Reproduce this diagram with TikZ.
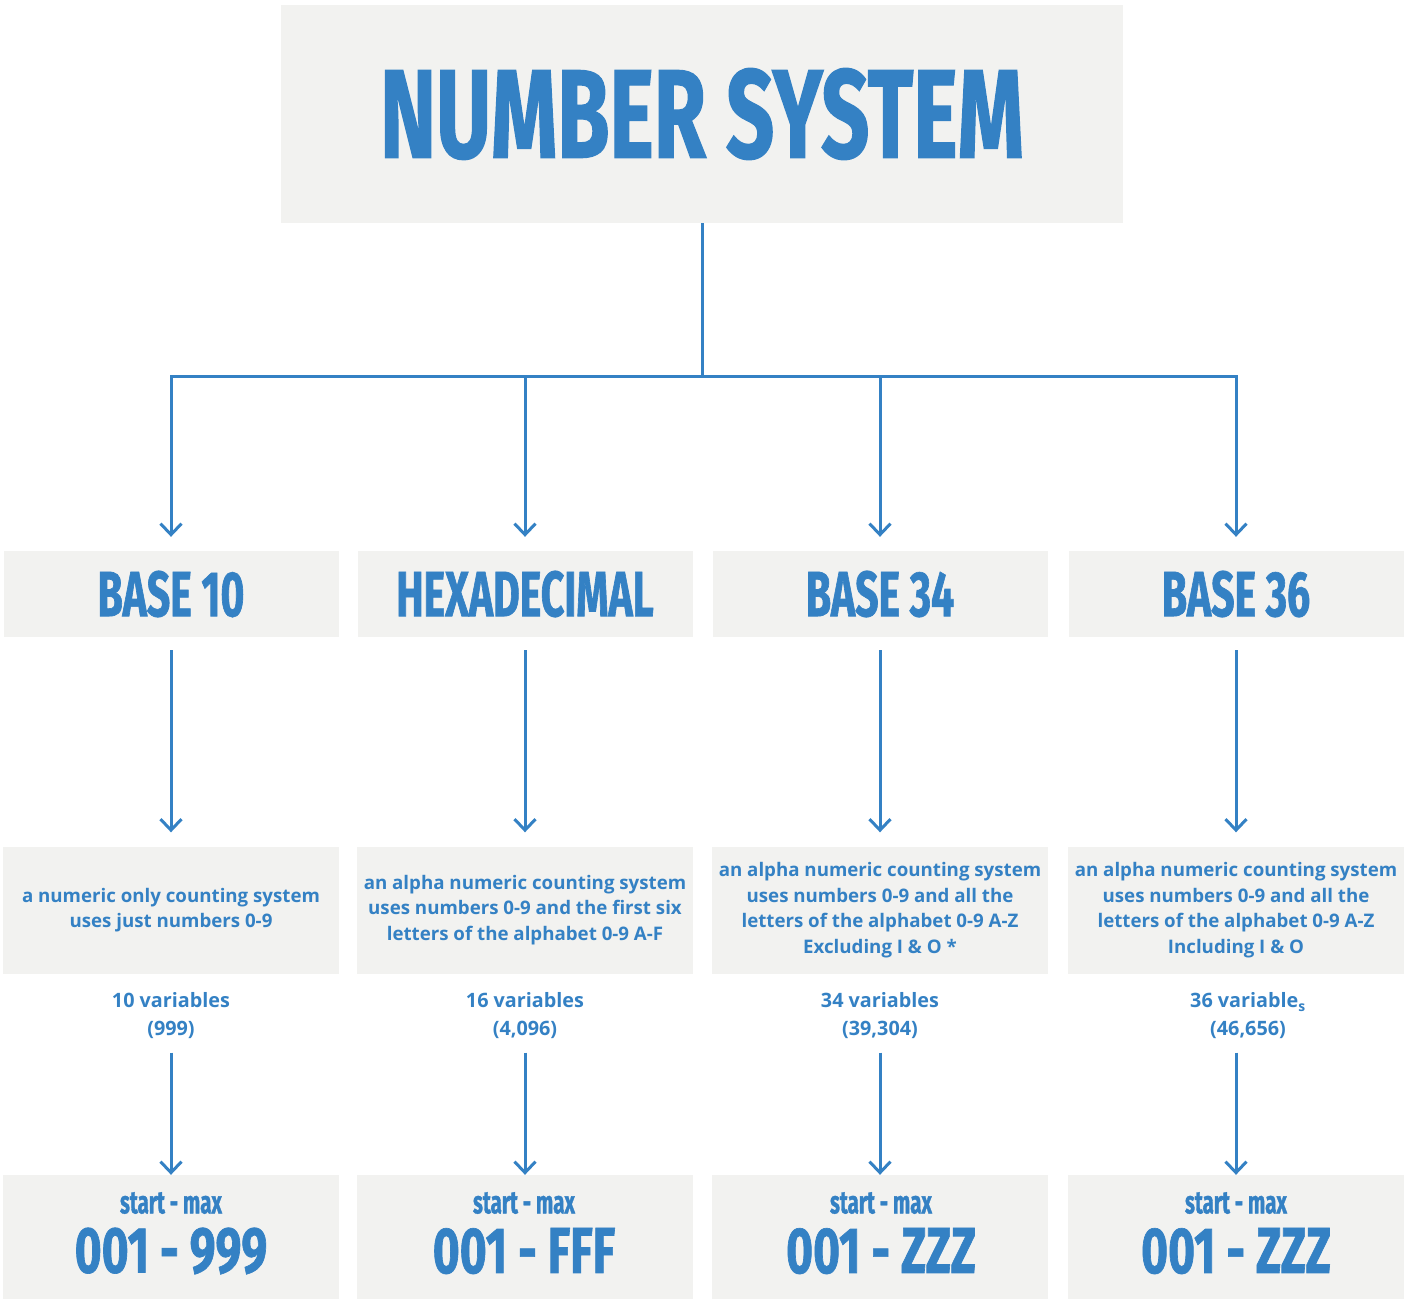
\documentclass[tikz,border=0pt]{standalone}
\usepackage{fontspec}
\setmainfont{Open Sans}
\newfontfamily\headfont[FakeStretch=0.64, FakeBold=1]{Fira Sans}
\newfontfamily\bigheadfont[FakeStretch=0.67, FakeBold=1]{Fira Sans}
\newfontfamily\codefont[FakeStretch=0.71, FakeBold=1]{Fira Sans}
\usetikzlibrary{positioning, arrows.meta}
\definecolor{numblue}{RGB}{52,129,196}
\definecolor{boxgray}{RGB}{242,242,240}
\tikzstyle{titlebox} = [rectangle, minimum width=842pt, minimum height=218pt, fill=boxgray, text=numblue, font=\bigheadfont\bfseries\fontsize{126}{126}\selectfont]
\tikzstyle{basebox} = [rectangle, minimum width=335pt, minimum height=86pt, fill=boxgray, text=numblue, font=\headfont\bfseries\fontsize{64}{64}\selectfont]
\tikzstyle{descbox} = [rectangle, minimum width=336pt, minimum height=127pt, inner sep=0pt, fill=boxgray, text=numblue, align=center, font=\bfseries\fontsize{18.7}{25.5}\selectfont]
\tikzstyle{vartext} = [align=center, text=numblue, font=\bfseries\fontsize{19.8}{28}\selectfont]
\tikzstyle{rangebox} = [rectangle, minimum width=336pt, minimum height=124pt, fill=boxgray]
\tikzstyle{startmax} = [text=numblue, inner sep=0pt, font=\headfont\bfseries\fontsize{32}{32}\selectfont]
\tikzstyle{rangecode} = [text=numblue, inner sep=0pt, font=\codefont\bfseries\fontsize{65}{65}\selectfont]
\tikzstyle{line} = [numblue, line width=3pt]
\tikzstyle{arrow} = [line, -{Straight Barb[length=11pt, width=21pt]}]
\def\gap{13pt}

\begin{document}
\begin{tikzpicture}[x=1pt, y=-1pt]
\useasboundingbox (0,0) rectangle (1416,1299);

\node (title) [titlebox] at (702,114) {NUMBER SYSTEM};
\coordinate (hub) at (702,376);

\node (base10) [basebox] at (171,594) {BASE 10};
\node (hex) [basebox] at (525,594) {HEXADECIMAL};
\node (base34) [basebox] at (880,594) {BASE 34};
\node (base36) [basebox] at (1236,594) {BASE 36};

\draw [line] (title.south) -- (hub);
\draw [arrow, shorten >=14pt] (hub) -| (base10.north);
\draw [arrow, shorten >=14pt] (hub) -| (hex.north);
\draw [arrow, shorten >=14pt] (hub) -| (base34.north);
\draw [arrow, shorten >=14pt] (hub) -| (base36.north);

\node (desc10) [descbox] at (171,910) {a numeric only counting system\\uses just numbers 0-9};
\node (deschex) [descbox] at (525,910) {an alpha numeric counting system\\uses numbers 0-9 and the first six\\letters of the alphabet 0-9 A-F};
\node (desc34) [descbox] at (880,910) {an alpha numeric counting system\\uses numbers 0-9 and all the\\letters of the alphabet 0-9 A-Z\\Excluding I \& O *};
\node (desc36) [descbox] at (1236,910) {an alpha numeric counting system\\uses numbers 0-9 and all the\\letters of the alphabet 0-9 A-Z\\Including I \& O};

\draw [arrow, shorten <=\gap, shorten >=14pt] (base10) -- (desc10);
\draw [arrow, shorten <=\gap, shorten >=14pt] (hex) -- (deschex);
\draw [arrow, shorten <=\gap, shorten >=14pt] (base34) -- (desc34);
\draw [arrow, shorten <=\gap, shorten >=14pt] (base36) -- (desc36);

\node (var10) [vartext] at (171,1016) {10 variables\\(999)};
\node (varhex) [vartext] at (525,1016) {16 variables\\(4,096)};
\node (var34) [vartext] at (880,1016) {34 variables\\(39,304)};
\node (var36) [vartext] at (1248,1016) {36 variable\textsubscript{s}\\(46,656)};

\node (range10) [rangebox] at (171,1237) {};
\node (rangehex) [rangebox] at (525,1237) {};
\node (range34) [rangebox] at (880,1237) {};
\node (range36) [rangebox] at (1236,1237) {};

\node (sm10) [startmax] at (171,1203) {start - max};
\node (smhex) [startmax] at (524,1203) {start - max};
\node (sm34) [startmax] at (881,1203) {start - max};
\node (sm36) [startmax] at (1236,1203) {start - max};
\node (code10) [rangecode] at (171,1251) {001 - 999};
\node (codehex) [rangecode] at (524,1251) {001 - FFF};
\node (code34) [rangecode] at (881,1251) {001 - ZZZ};
\node (code36) [rangecode] at (1236,1251) {001 - ZZZ};

\draw [arrow, shorten <=10pt] (var10) -- (range10);
\draw [arrow, shorten <=10pt] (varhex) -- (rangehex);
\draw [arrow, shorten <=10pt] (var34) -- (range34);
\draw [arrow, shorten <=10pt] (var36.south -| range36) -- (range36);

\end{tikzpicture}
\end{document}
